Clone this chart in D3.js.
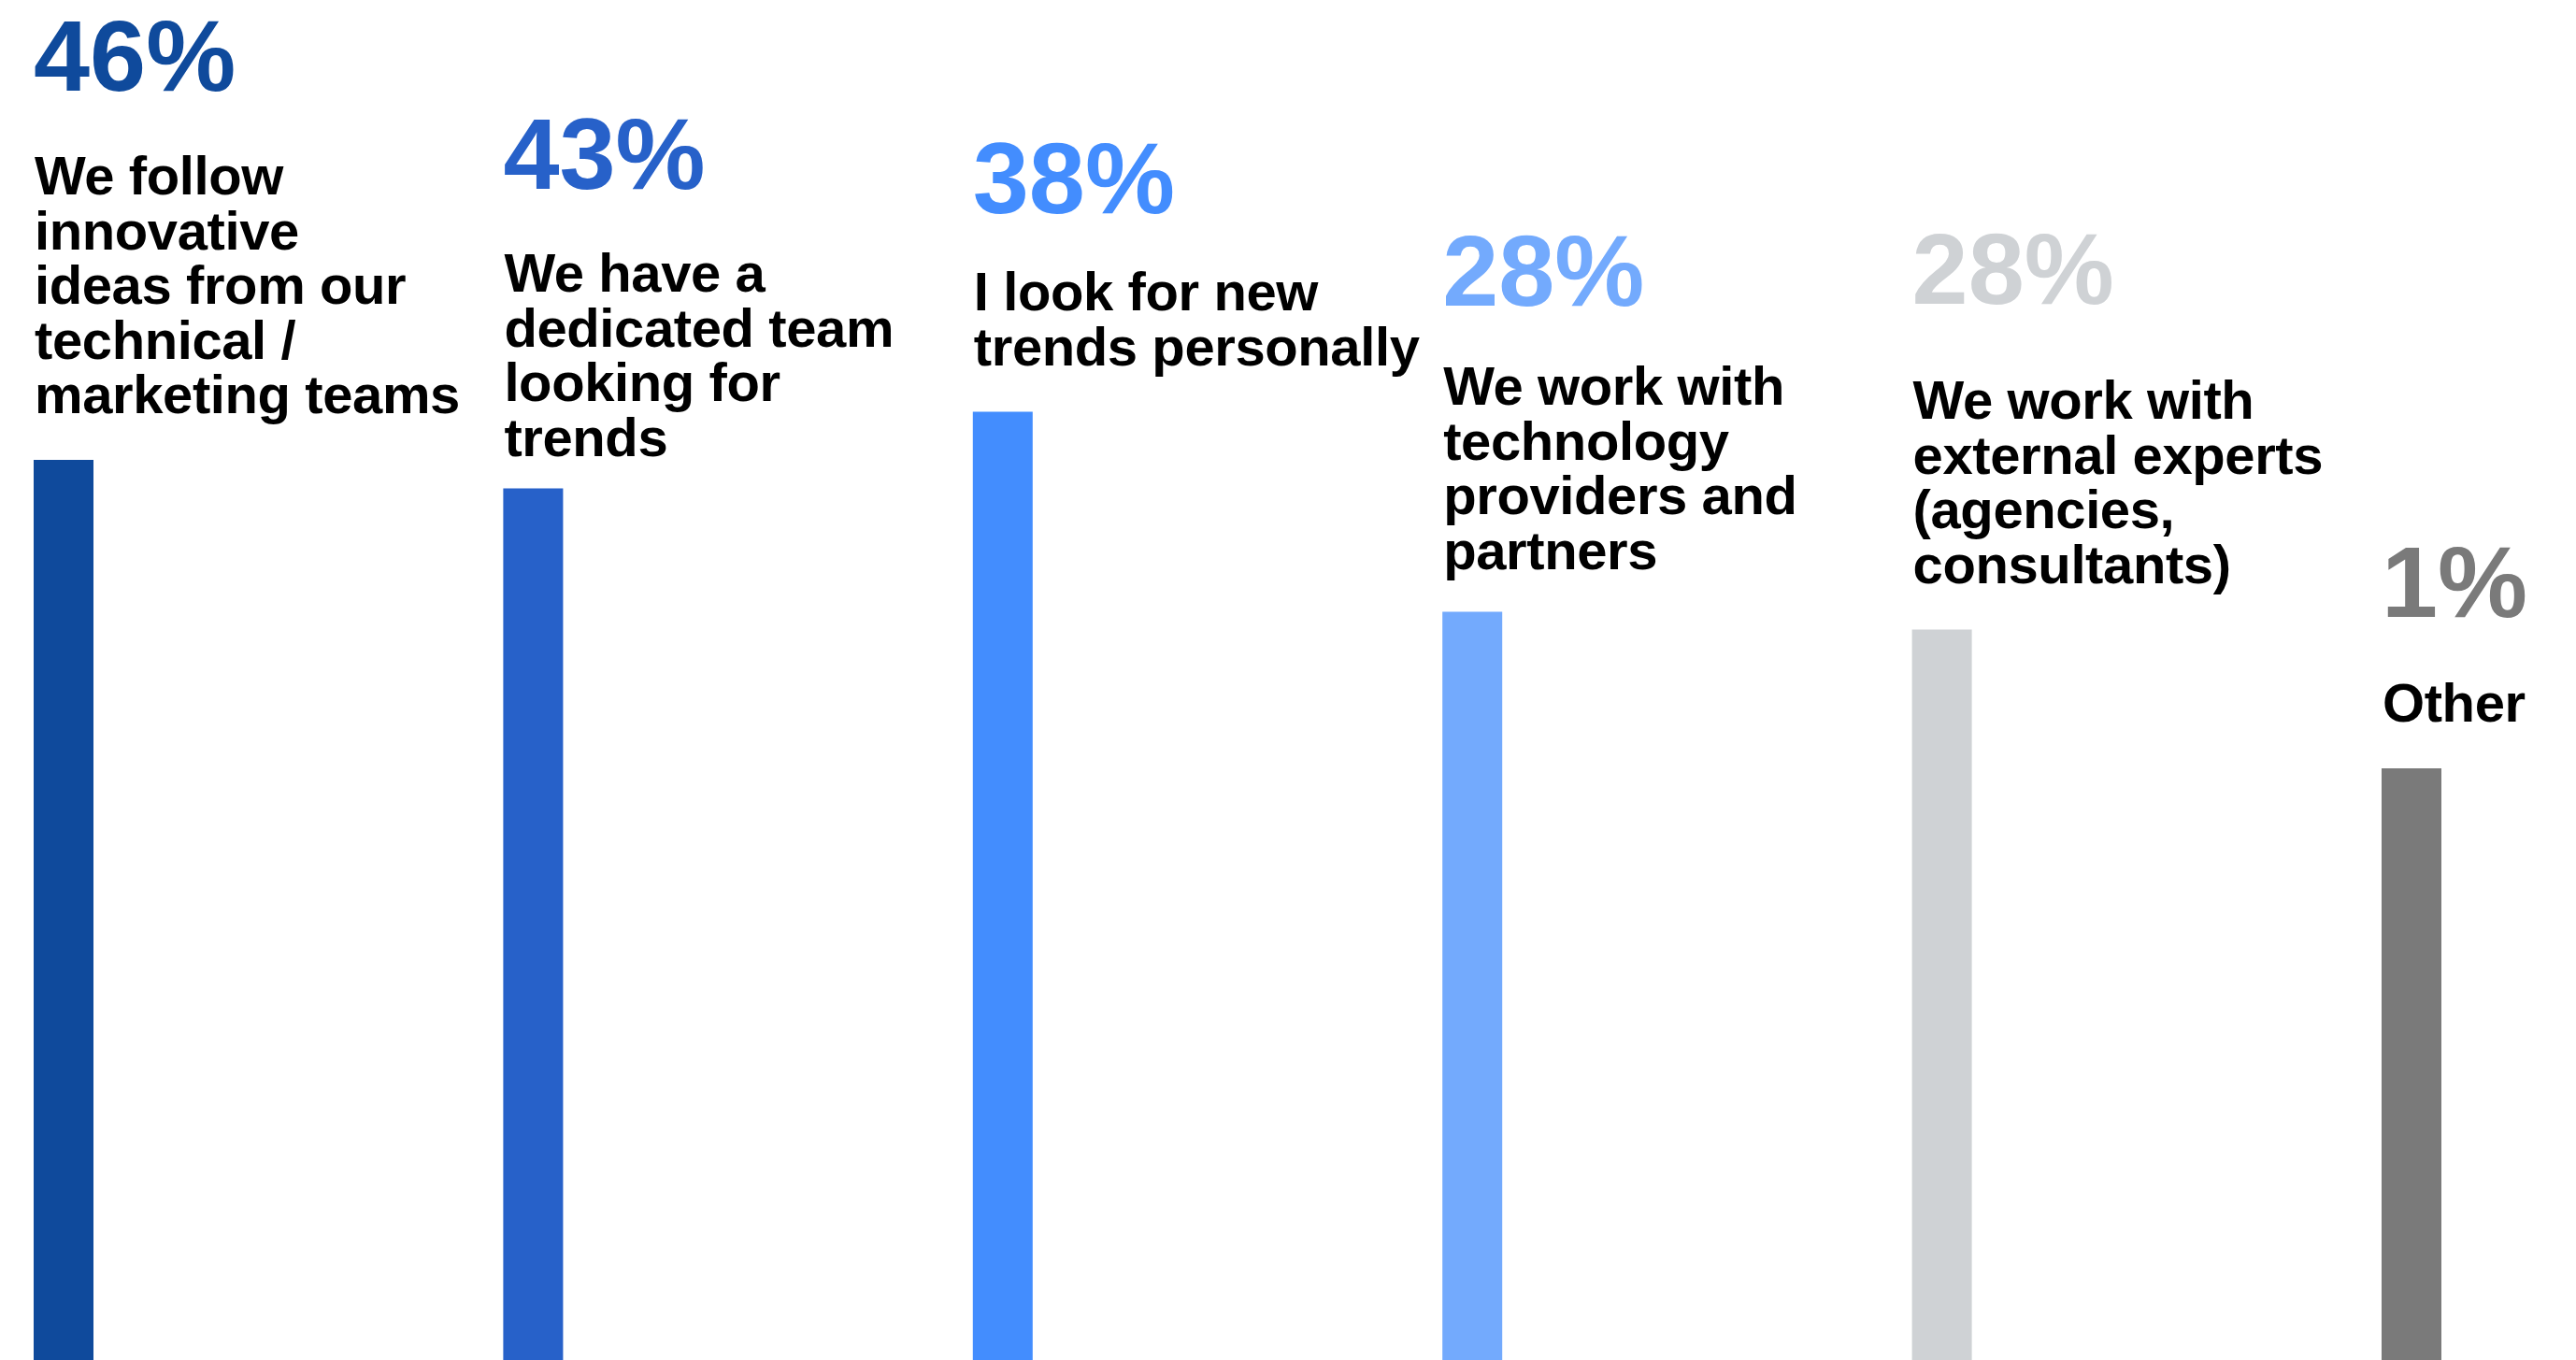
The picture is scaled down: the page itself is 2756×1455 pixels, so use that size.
<!DOCTYPE html>
<html>
<head>
<meta charset="utf-8">
<script src="https://cdn.jsdelivr.net/npm/d3@7"></script>
<style>
  html, body { margin: 0; padding: 0; background: #ffffff; }
  svg { display: block; }
</style>
</head>
<body>
<div id="chart"></div>
<script>
// ---- data ----
const categories = [
  "We follow innovative ideas from our technical / marketing teams",
  "We have a dedicated team looking for trends",
  "I look for new trends personally",
  "We work with technology providers and partners",
  "We work with external experts (agencies, consultants)",
  "Other"
];
const labelLines = [
  ["We follow", "innovative", "ideas from our", "technical /", "marketing teams"],
  ["We have a", "dedicated team", "looking for", "trends"],
  ["I look for new", "trends personally"],
  ["We work with", "technology", "providers and", "partners"],
  ["We work with", "external experts", "(agencies,", "consultants)"],
  ["Other"]
];
const values = [46, 43, 38, 28, 28, 1];
const valueLabels = ["46%", "43%", "38%", "28%", "28%", "1%"];

// ---- layout / style (kept separate from data) ----
const W = 2756, H = 1455;
const colors = ["#0f4a9c", "#2761c9", "#438dfe", "#73aafd", "#cfd2d5", "#7a7a7a"];
const pctBaseline = [97, 202, 228, 327, 325, 660];
const labelGap = [111, 110, 104, 106, 123, 112];
const barGap = [50, 35, 50, 46, 50, 50];
const lineStep = 58.5;
const font = "'Liberation Sans', Arial, Helvetica, sans-serif";

const svg = d3.select("#chart").append("svg")
  .attr("width", W).attr("height", H)
  .attr("viewBox", `0 0 ${W} ${H}`);

const x = d3.scaleBand()
  .domain(categories)
  .range([36, 2612])
  .paddingInner(0.8726)
  .paddingOuter(0)
  .align(0);

const cols = svg.selectAll("g.col")
  .data(categories.map((c, i) => ({ c, i, v: values[i], lab: valueLabels[i], lines: labelLines[i] })))
  .join("g")
  .attr("class", "col")
  .attr("transform", d => `translate(${x(d.c)},0)`);

// percentage labels
cols.append("text")
  .attr("x", 0)
  .attr("y", d => pctBaseline[d.i])
  .attr("font-family", font)
  .attr("font-weight", 700)
  .attr("font-size", 108)
  .attr("fill", d => colors[d.i])
  .text(d => d.lab);

// category labels
cols.append("text")
  .attr("font-family", font)
  .attr("font-weight", 700)
  .attr("font-size", 58)
  .attr("letter-spacing", -0.4)
  .attr("fill", "#000000")
  .each(function(d) {
    const t = d3.select(this);
    const y0 = pctBaseline[d.i] + labelGap[d.i];
    d.lines.forEach((ln, k) => {
      t.append("tspan")
        .attr("x", 1)
        .attr("y", y0 + k * lineStep)
        .text(ln);
    });
  });

// bars: start below the label block and run to the bottom
cols.append("rect")
  .attr("x", 0)
  .attr("width", x.bandwidth())
  .attr("y", d => pctBaseline[d.i] + labelGap[d.i] + (d.lines.length - 1) * lineStep + barGap[d.i])
  .attr("height", d => H - (pctBaseline[d.i] + labelGap[d.i] + (d.lines.length - 1) * lineStep + barGap[d.i]))
  .attr("fill", d => colors[d.i]);
</script>
</body>
</html>
